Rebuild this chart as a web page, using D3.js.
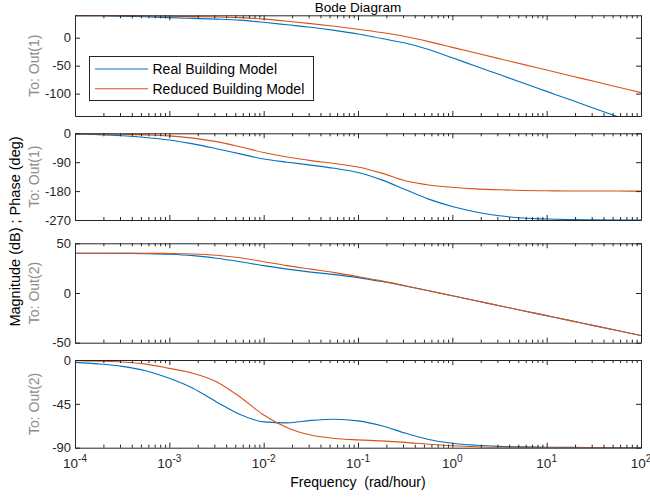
<!DOCTYPE html>
<html>
<head>
<meta charset="utf-8">
<script src="https://cdn.jsdelivr.net/npm/d3@7"></script>
<style>
  html, body { margin: 0; padding: 0; background: #fff; }
  svg { display: block; font-family: "Liberation Sans", Arial, Helvetica, sans-serif; }
</style>
</head>
<body>
<svg id="chart" width="650" height="498"></svg>
<script>
// Frequency grid (rad/hour)
const freq = [1e-4, 1.78e-4, 3.16e-4, 5.62e-4, 1e-3, 1.78e-3, 3.16e-3, 5.62e-3,
  1e-2, 1.78e-2, 3.16e-2, 5.62e-2, 0.1, 0.178, 0.316, 0.562, 1, 1.78, 3.16, 5.62,
  10, 17.8, 31.6, 56.2, 100];

// Output 1 magnitude (dB)
const magOut1Real = [39.5, 39.3, 38.6, 37.4, 35.8, 34.5, 33.2, 31.3, 27.5, 23, 18.5, 13, 6.5,
  -1.5, -9.5, -21, -36, -51, -66, -81, -96, -111, -126, -141, -156];
const magOut1Reduced = [39.9, 39.8, 39.5, 39.0, 38.2, 37.6, 37.0, 35.8, 33.2, 29.5, 25.2, 20.5, 15.2,
  9.2, 2.0, -7, -17.3, -27.5, -37.6, -47.7, -57.8, -67.9, -78, -88.1, -98.2];

// Output 1 phase (deg)
const phaseOut1Real = [-2, -4, -7.5, -13, -21, -33, -48, -64, -80, -90, -99, -109, -122,
  -145, -175, -205, -228, -245, -257, -264, -267, -268.8, -269.5, -269.8, -270];
const phaseOut1Reduced = [-1, -1.8, -3, -4.8, -8, -15, -26, -42, -60, -74, -85, -94, -105,
  -124, -148, -161, -168, -173, -176, -178, -179, -179.5, -179.8, -179.9, -180];

// Output 2 magnitude (dB)
const magOut2Real = [40, 40, 39.9, 39.6, 39, 37.6, 35, 31.5, 27.5, 24, 21, 18.5, 15.5,
  11.5, 7, 2.2, -2.8, -7.8, -12.8, -17.8, -22.8, -27.8, -32.8, -37.8, -42.8];
const magOut2Reduced = [40, 40, 40, 39.9, 39.8, 39.3, 38, 35.5, 31.5, 27.5, 24, 20.5, 16.5,
  12.2, 7.3, 2.3, -2.8, -7.8, -12.8, -17.8, -22.8, -27.8, -32.8, -37.8, -42.8];

// Output 2 phase (deg)
const phaseOut2Real = [-2.4, -4, -6.5, -11, -18.8, -29, -43, -56, -63.5, -64.5, -62, -60.8, -62.5,
  -67.5, -75, -81.5, -85.5, -87.5, -88.6, -89.2, -89.5, -89.7, -89.8, -89.9, -89.95];
const phaseOut2Reduced = [-0.7, -1.2, -2.0, -4.2, -8.6, -13.5, -22.3, -38, -56.5, -69.5, -77, -80.5, -82,
  -83, -84.5, -86.5, -88, -89, -89.5, -89.7, -89.8, -89.9, -89.95, -90, -90];

// Axis ticks
const xMajorTicks = [1e-4, 1e-3, 1e-2, 1e-1, 1, 10, 100];
const xTickExponents = ["-4", "-3", "-2", "-1", "0", "1", "2"];
const yTicksMag1 = [0, -50, -100];
const yTicksPhase1 = [0, -90, -180, -270];
const yTicksMag2 = [50, 0, -50];
const yTicksPhase2 = [0, -45, -90];

const seriesNames = ["Real Building Model", "Reduced Building Model"];
const seriesColors = ["#0072BD", "#D95319"];

const svg = d3.select("#chart");
const axisColor = "#262626";
const left = 75, right = 641;

const x = d3.scaleLog().domain([1e-4, 100]).range([left, right]);

// minor tick positions 2..9 x 10^k
const xMinorTicks = [];
for (let k = -4; k < 2; k++) {
  for (let m = 2; m <= 9; m++) xMinorTicks.push(m * Math.pow(10, k));
}

const panels = [
  { top: 15.3, bottom: 116, domain: [-140, 40], ticks: yTicksMag1, label: "To: Out(1)",
    series: [magOut1Real, magOut1Reduced] },
  { top: 133.3, bottom: 220, domain: [-270, 0], ticks: yTicksPhase1, label: "To: Out(1)",
    series: [phaseOut1Real, phaseOut1Reduced] },
  { top: 243.3, bottom: 342.7, domain: [-50, 50], ticks: yTicksMag2, label: "To: Out(2)",
    series: [magOut2Real, magOut2Reduced] },
  { top: 360, bottom: 447.7, domain: [-90, 0], ticks: yTicksPhase2, label: "To: Out(2)",
    series: [phaseOut2Real, phaseOut2Reduced] }
];

function styleAxis(g) {
  g.selectAll("path.domain").attr("stroke", axisColor).attr("stroke-width", 1);
  g.selectAll(".tick line").attr("stroke", axisColor).attr("stroke-width", 1);
  g.selectAll(".tick text").attr("fill", axisColor).attr("font-size", 13)
    .attr("font-family", "Liberation Sans, Arial, Helvetica, sans-serif");
}

panels.forEach((p, i) => {
  const y = d3.scaleLinear().domain(p.domain).range([p.bottom, p.top]);
  const clipId = "clip" + i;
  svg.append("clipPath").attr("id", clipId)
    .append("rect").attr("x", left).attr("y", p.top)
    .attr("width", right - left).attr("height", p.bottom - p.top);

  // data lines
  const line = d3.line()
    .x((d, j) => x(freq[j]))
    .y(d => y(d))
    .curve(d3.curveMonotoneX);
  const gl = svg.append("g").attr("clip-path", `url(#${clipId})`);
  p.series.forEach((s, k) => {
    gl.append("path").datum(s)
      .attr("d", line)
      .attr("fill", "none")
      .attr("stroke", seriesColors[k])
      .attr("stroke-width", 1.1);
  });

  // x axes (bottom and top), ticks pointing inward
  const bottom = svg.append("g").attr("transform", `translate(0,${p.bottom})`)
    .call(d3.axisBottom(x).tickValues(xMajorTicks).tickSizeInner(-5).tickSizeOuter(0)
      .tickPadding(10).tickFormat(() => ""));
  styleAxis(bottom);
  const bottomMinor = svg.append("g").attr("transform", `translate(0,${p.bottom})`)
    .call(d3.axisBottom(x).tickValues(xMinorTicks).tickSize(-3).tickFormat(() => ""));
  styleAxis(bottomMinor);
  bottomMinor.select("path.domain").remove();

  const top = svg.append("g").attr("transform", `translate(0,${p.top})`)
    .call(d3.axisTop(x).tickValues(xMajorTicks).tickSizeInner(-5).tickSizeOuter(0).tickFormat(() => ""));
  styleAxis(top);
  const topMinor = svg.append("g").attr("transform", `translate(0,${p.top})`)
    .call(d3.axisTop(x).tickValues(xMinorTicks).tickSize(-3).tickFormat(() => ""));
  styleAxis(topMinor);
  topMinor.select("path.domain").remove();

  // y axes (left with labels, right plain)
  const yl = svg.append("g").attr("transform", `translate(${left},0)`)
    .call(d3.axisLeft(y).tickValues(p.ticks).tickSizeInner(-5).tickSizeOuter(0)
      .tickPadding(4).tickFormat(d => String(d).replace("\u2212", "-")));
  styleAxis(yl);
  const yr = svg.append("g").attr("transform", `translate(${right},0)`)
    .call(d3.axisRight(y).tickValues(p.ticks).tickSizeInner(-5).tickSizeOuter(0).tickFormat(() => ""));
  styleAxis(yr);

  // output label
  svg.append("text")
    .attr("transform", `translate(38.5,${(p.top + p.bottom) / 2}) rotate(-90)`)
    .attr("text-anchor", "middle")
    .attr("font-size", 14)
    .attr("fill", "#8c8c8c")
    .text(p.label);

  // frequency tick labels on the last panel
  if (i === panels.length - 1) {
    xMajorTicks.forEach((t, j) => {
      const txt = svg.append("text")
        .attr("x", x(t))
        .attr("y", p.bottom + 20.5)
        .attr("text-anchor", "middle")
        .attr("font-size", 13.5)
        .attr("fill", axisColor);
      txt.append("tspan").text("10");
      txt.append("tspan").attr("dy", -6).attr("font-size", 10).text(xTickExponents[j]);
    });
  }
});

// title
svg.append("text")
  .attr("x", (left + right) / 2).attr("y", 12)
  .attr("text-anchor", "middle")
  .attr("font-size", 13.5)
  .attr("fill", "#000")
  .text("Bode Diagram");

// axis labels
svg.append("text")
  .attr("x", (left + right) / 2).attr("y", 487)
  .attr("text-anchor", "middle")
  .attr("font-size", 14)
  .attr("fill", "#000")
  .attr("xml:space", "preserve")
  .style("white-space", "pre")
  .text("Frequency  (rad/hour)");

svg.append("text")
  .attr("transform", `translate(19.5,${(15.3 + 447.7) / 2}) rotate(-90)`)
  .attr("text-anchor", "middle")
  .attr("font-size", 14.5)
  .attr("fill", "#000")
  .text("Magnitude (dB) ; Phase (deg)");

// legend
const legend = svg.append("g");
legend.append("rect")
  .attr("x", 89.5).attr("y", 56.5).attr("width", 224).attr("height", 44)
  .attr("fill", "#fff").attr("stroke", axisColor).attr("stroke-width", 1);
seriesNames.forEach((name, k) => {
  const ly = 69 + k * 19.7;
  legend.append("line")
    .attr("x1", 95).attr("x2", 148).attr("y1", ly).attr("y2", ly)
    .attr("stroke", seriesColors[k]).attr("stroke-width", 1.1);
  legend.append("text")
    .attr("x", 152.5).attr("y", ly + 5)
    .attr("font-size", 14)
    .attr("fill", "#000")
    .text(name);
});
</script>
</body>
</html>
